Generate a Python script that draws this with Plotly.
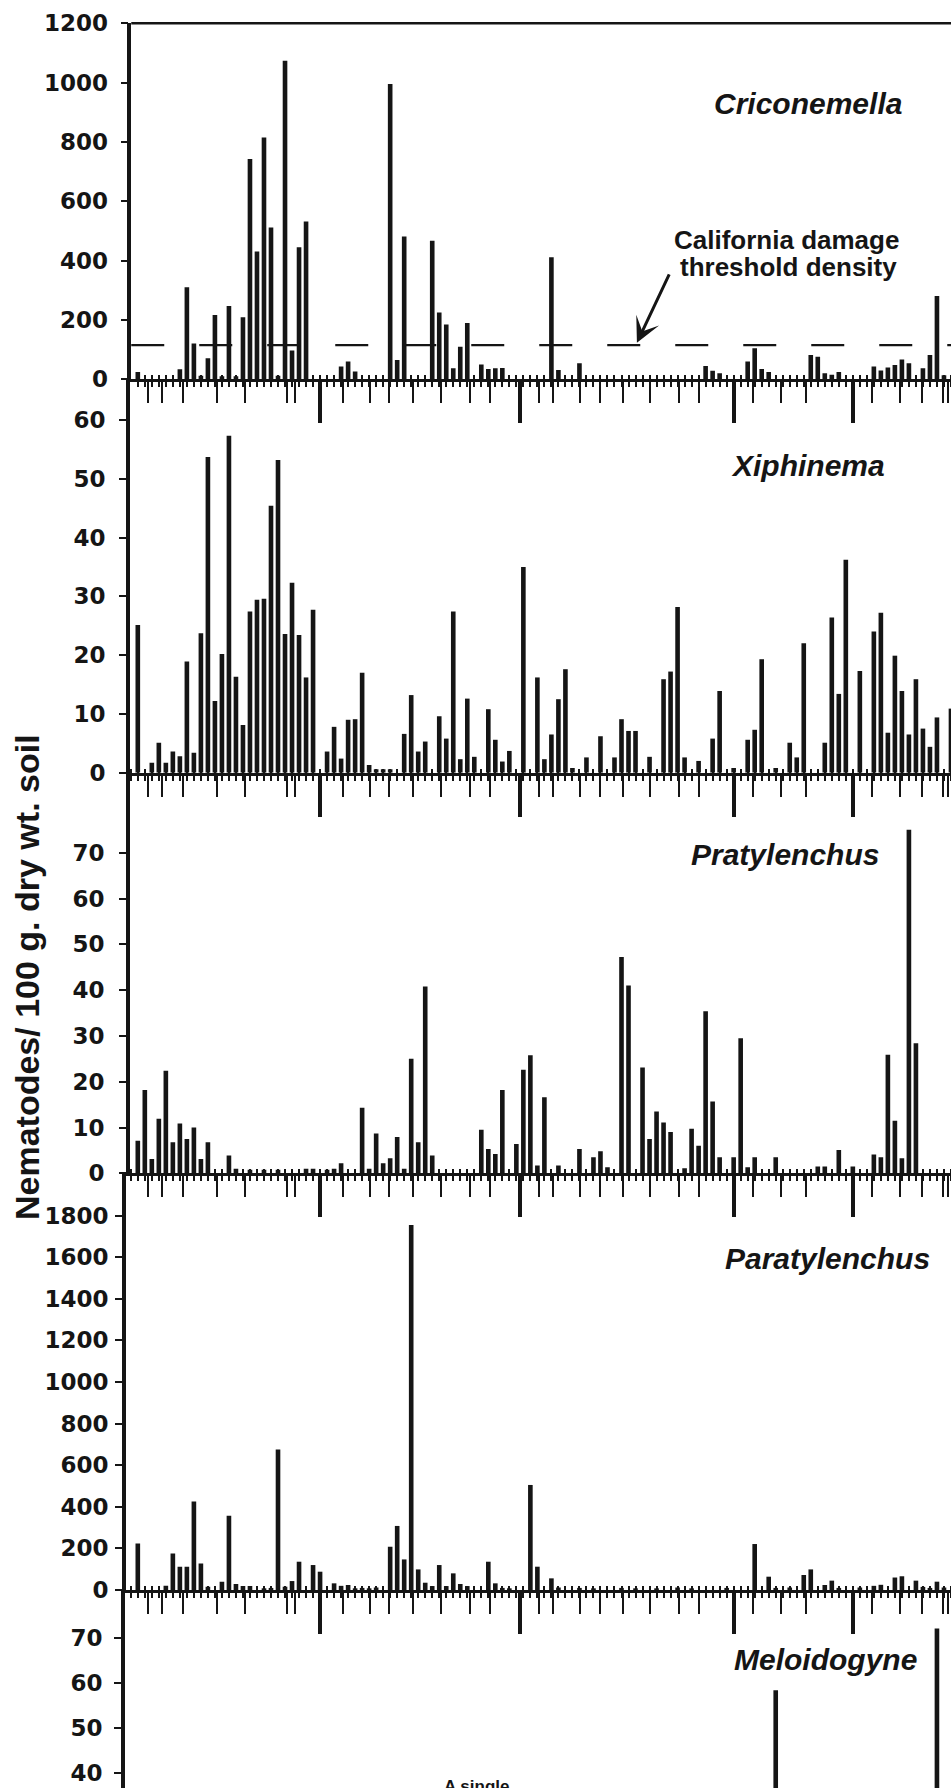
import plotly.graph_objects as go

# ---------------- data (sample position along transect, nematode counts) ----------------
crico_site = [1, 7, 8, 9, 10, 11, 12, 13, 14, 15,
              16, 17, 18, 19, 20, 21, 22, 23, 24, 25,
              30, 31, 32, 37, 38, 39, 43, 44, 45, 46,
              47, 48, 50, 51, 52, 53, 60, 61, 64, 82,
              83, 84, 88, 89, 90, 91, 97, 98, 99, 100,
              101, 106, 107, 108, 109, 110, 111, 113, 114, 115,
              116]
crico_count = [25, 34, 310, 121, 12, 71, 217, 10, 247, 10,
               209, 743, 431, 815, 512, 12, 1074, 97, 445, 532,
               43, 60, 26, 995, 65, 481, 467, 225, 185, 37,
               110, 190, 50, 35, 37, 38, 411, 31, 54, 45,
               29, 20, 60, 105, 35, 25, 82, 76, 20, 15,
               25, 43, 30, 40, 48, 67, 54, 37, 82, 281,
               14]

xiph_site = [1, 3, 4, 5, 6, 7, 8, 9, 10, 11,
             12, 13, 14, 15, 16, 17, 18, 19, 20, 21,
             22, 23, 24, 25, 26, 28, 29, 30, 31, 32,
             33, 34, 35, 36, 37, 39, 40, 41, 42, 44,
             45, 46, 47, 48, 49, 51, 52, 53, 54, 56,
             58, 59, 60, 61, 62, 63, 65, 67, 69, 70,
             71, 72, 74, 76, 77, 78, 79, 81, 83, 84,
             86, 88, 89, 90, 92, 94, 95, 96, 99, 100,
             101, 102, 104, 106, 107, 108, 109, 110, 111, 112,
             113, 114, 115, 117]
xiph_count = [25.1, 1.7, 5.1, 1.7, 3.6, 2.8, 18.9, 3.4, 23.7, 53.7,
              12.2, 20.2, 57.3, 16.3, 8.1, 27.4, 29.4, 29.6, 45.4, 53.2,
              23.6, 32.3, 23.4, 16.2, 27.7, 3.6, 7.8, 2.4, 9.0, 9.1,
              17.0, 1.3, 0.6, 0.6, 0.6, 6.6, 13.2, 3.6, 5.3, 9.6,
              5.8, 27.4, 2.3, 12.6, 2.7, 10.8, 5.6, 1.9, 3.7, 35.0,
              16.2, 2.3, 6.5, 12.5, 17.6, 0.8, 2.6, 6.2, 2.6, 9.1,
              7.1, 7.1, 2.7, 15.9, 17.2, 28.2, 2.6, 2.0, 5.8, 13.9,
              0.8, 5.6, 7.3, 19.3, 0.8, 5.1, 2.6, 22.0, 5.1, 26.4,
              13.4, 36.2, 17.3, 24.0, 27.2, 6.8, 19.9, 13.9, 6.5, 15.9,
              7.5, 4.4, 9.4, 10.9]

praty_site = [1, 2, 3, 4, 5, 6, 7, 8, 9, 10,
              11, 14, 15, 17, 19, 21, 25, 26, 28, 29,
              30, 33, 34, 35, 36, 37, 38, 39, 40, 41,
              42, 43, 50, 51, 52, 53, 55, 56, 57, 58,
              59, 61, 64, 66, 67, 68, 70, 71, 73, 74,
              75, 76, 77, 79, 80, 81, 82, 83, 84, 86,
              87, 88, 89, 92, 98, 99, 101, 103, 106, 107,
              108, 109, 110, 111, 112]
praty_count = [7.1, 18.2, 3.1, 11.9, 22.4, 6.8, 10.9, 7.5, 10.0, 3.1,
               6.8, 3.9, 1.0, 0.8, 0.8, 0.8, 1.0, 1.0, 0.8, 1.0,
               2.2, 14.3, 1.0, 8.7, 2.2, 3.3, 7.9, 1.0, 25.0, 6.8,
               40.8, 3.9, 9.5, 5.3, 4.2, 18.2, 6.4, 22.6, 25.8, 1.7,
               16.6, 1.7, 5.3, 3.5, 4.8, 1.3, 47.2, 41.0, 23.1, 7.5,
               13.5, 11.1, 9.0, 1.1, 9.7, 6.0, 35.4, 15.7, 3.5, 3.5,
               29.5, 1.3, 3.5, 3.5, 1.5, 1.5, 5.1, 1.5, 4.1, 3.5,
               25.9, 11.5, 3.3, 75.0, 28.4]

para_site = [1, 5, 6, 7, 8, 9, 10, 11, 13, 14,
             15, 16, 17, 19, 20, 21, 22, 23, 24, 26,
             27, 29, 30, 31, 32, 33, 34, 35, 37, 38,
             39, 40, 41, 42, 43, 44, 45, 46, 47, 48,
             51, 52, 53, 54, 57, 58, 60, 61, 64, 66,
             70, 72, 75, 78, 80, 85, 89, 91, 92, 94,
             96, 97, 99, 100, 101, 104, 106, 107, 109, 110,
             112, 113, 114, 115, 116]
para_count = [224, 20, 176, 112, 112, 425, 128, 16, 40, 357,
              29, 19, 19, 8, 10, 676, 16, 43, 136, 120,
              88, 32, 20, 24, 8, 10, 8, 12, 208, 308,
              147, 1755, 99, 35, 19, 120, 19, 80, 29, 19,
              136, 32, 10, 8, 505, 112, 56, 12, 10, 8,
              10, 8, 8, 12, 8, 10, 221, 64, 10, 12,
              72, 99, 24, 45, 10, 12, 20, 25, 60, 66,
              45, 15, 10, 40, 12]

melo_site = [92, 115]
melo_count = [58.4, 72.1]

genera = ["Criconemella", "Xiphinema", "Pratylenchus", "Paratylenchus", "Meloidogyne"]
y_ticks = [[0, 200, 400, 600, 800, 1000, 1200],
           [0, 10, 20, 30, 40, 50, 60],
           [0, 10, 20, 30, 40, 50, 60, 70],
           [0, 200, 400, 600, 800, 1000, 1200, 1400, 1600, 1800],
           [40, 50, 60, 70]]
group_ticks = [2.5, 4.5, 7.4, 12.3, 16.3, 22.3, 23.4, 30.3, 34.1, 36.9, 40.2, 44.2,
               48.4, 51.2, 58.3, 60.2, 64.1, 66.9, 70.2, 74.1, 78.2, 81.1, 88.8,
               92.7, 96.3, 105.7, 109.7, 112.8, 115.9, 116.6]
vineyard_breaks = [27, 55.5, 86, 103]
threshold = 115

# ---------------- layout calibration (screen pixels of the 951x1788 page) ----------------
W, H = 951, 1788
X0, DX = 130.8, 7.01          # pixel of sample 0, pixels per sample


def fx(px):
    return px / W


def fy(px):
    return 1 - px / H


# per panel: y-axis x pixel, top pixel, bottom pixel, zero pixel, pixels per unit, label standoff
PAN = [
    dict(ax=131.25, top=23.3, bot=379.3, zero=379.3, ppu=356.0 / 1200, so=8),
    dict(ax=129.75, top=379.3, bot=772.7, zero=772.7, ppu=5.88, so=9),
    dict(ax=129.75, top=772.7, bot=1173.3, zero=1173.3, ppu=4.58, so=10),
    dict(ax=125.75, top=1173.3, bot=1590.0, zero=1590.0, ppu=0.208, so=2),
    dict(ax=124.75, top=1590.0, bot=1788.0, zero=1953.0, ppu=4.5, so=7),
]
series = [(crico_site, crico_count), (xiph_site, xiph_count), (praty_site, praty_count),
          (para_site, para_count), (melo_site, melo_count)]

INK = "#151515"
FONT = "Liberation Sans, Arial, Helvetica, sans-serif"
TFONT = "DejaVu Sans, Verdana, sans-serif"

fig = go.Figure()
layout = dict(width=W, height=H, margin=dict(l=0, r=0, t=0, b=0, autoexpand=False),
              paper_bgcolor="white", plot_bgcolor="white", showlegend=False,
              barmode="overlay", shapes=[], annotations=[])

for i, (p, (sx, sy)) in enumerate(zip(PAN, series)):
    n = i + 1
    xid = "x" if n == 1 else f"x{n}"
    yid = "y" if n == 1 else f"y{n}"
    xkey = "xaxis" if n == 1 else f"xaxis{n}"
    ykey = "yaxis" if n == 1 else f"yaxis{n}"
    xrange_ = [(p["ax"] - X0) / DX, (W - X0) / DX]
    fig.add_trace(go.Bar(x=sx, y=sy, width=0.66, xaxis=xid, yaxis=yid,
                         marker=dict(color=INK, line=dict(width=0)), hoverinfo="skip"))
    visible_x = n < 5
    layout[xkey] = dict(domain=[fx(p["ax"]), 1], range=xrange_, anchor=yid,
                        showline=visible_x, linewidth=3, linecolor=INK,
                        ticks="outside" if visible_x else "", tickmode="array",
                        tickvals=group_ticks, ticklen=21, tickwidth=2, tickcolor=INK,
                        showticklabels=False, showgrid=False, zeroline=False, automargin=False,
                        minor=dict(tickmode="linear", tick0=0, dtick=1,
                                   ticks="outside" if visible_x else "", ticklen=5,
                                   tickwidth=1.5, tickcolor=INK, showgrid=False))
    layout[ykey] = dict(domain=[fy(p["bot"]), fy(p["top"])],
                        range=[(p["zero"] - p["bot"]) / p["ppu"], (p["zero"] - p["top"]) / p["ppu"]],
                        anchor=xid, showline=True, linewidth=3.5, linecolor=INK,
                        ticks="outside", ticklen=7, tickwidth=2, tickcolor=INK,
                        tickmode="array", tickvals=y_ticks[i], ticktext=[str(v) for v in y_ticks[i]],
                        tickfont=dict(family=TFONT, size=23, color=INK, weight="bold"),
                        ticklabelstandoff=p["so"], showgrid=False, zeroline=False, automargin=False)
    if visible_x:
        oid = f"x{n + 5}"
        okey = f"xaxis{n + 5}"
        fig.add_trace(go.Scatter(x=[None], y=[None], xaxis=oid, yaxis=yid,
                                 hoverinfo="skip", showlegend=False))
        layout[okey] = dict(overlaying=xid, anchor=yid, side="bottom", range=xrange_,
                            showline=False, showgrid=False, zeroline=False, automargin=False,
                            showticklabels=False, ticks="outside", tickmode="array",
                            tickvals=vineyard_breaks, ticklen=43, tickwidth=4, tickcolor=INK,
                            minor=dict(tickmode="linear", tick0=0, dtick=1, ticks="inside",
                                       ticklen=4, tickwidth=1.5, tickcolor=INK, showgrid=False))

# top frame line of first panel and damage threshold line
layout["shapes"].append(dict(type="line", xref="x domain", yref="y domain", x0=0, x1=1, y0=1, y1=1,
                             line=dict(color=INK, width=2.5)))
layout["shapes"].append(dict(type="line", xref="x domain", yref="y", x0=0, x1=1,
                             y0=threshold, y1=threshold,
                             line=dict(color=INK, width=2.2, dash="33px,35px")))

# genus labels
label_px = [(807.5, 104), (808, 466), (785, 854), (827, 1258), (825.5, 1659)]
for name, (lx, ly) in zip(genera, label_px):
    layout["annotations"].append(dict(x=fx(lx), y=fy(ly), xref="paper", yref="paper",
                                      text=f"<b><i>{name}</i></b>", showarrow=False,
                                      xanchor="center", yanchor="middle",
                                      font=dict(family=FONT, size=30, color=INK)))

# threshold note and arrow
layout["annotations"].append(dict(x=fx(786), y=fy(239.5), xref="paper", yref="paper",
                                  text="<b>California damage</b>", showarrow=False,
                                  xanchor="center", yanchor="middle",
                                  font=dict(family=FONT, size=26, color=INK)))
layout["annotations"].append(dict(x=fx(788.5), y=fy(266.5), xref="paper", yref="paper",
                                  text="<b>threshold density</b>", showarrow=False,
                                  xanchor="center", yanchor="middle",
                                  font=dict(family=FONT, size=26, color=INK)))
layout["annotations"].append(dict(x=72.2, y=threshold + 8, xref="x", yref="y", text="",
                                  showarrow=True, ax=33, ay=-70, arrowhead=3, arrowsize=1.4,
                                  arrowwidth=3, arrowcolor=INK, standoff=0))

# y title
layout["annotations"].append(dict(x=fx(27), y=fy(977), xref="paper", yref="paper",
                                  text="<b>Nematodes/ 100 g. dry wt. soil</b>", textangle=-90,
                                  showarrow=False, xanchor="center", yanchor="middle",
                                  font=dict(family=FONT, size=34, color=INK)))

# note at the bottom edge (continues below the visible area in the source)
layout["annotations"].append(dict(x=fx(477), y=fy(1775), xref="paper", yref="paper",
                                  text="<b>A single</b>", showarrow=False,
                                  xanchor="center", yanchor="top",
                                  font=dict(family=FONT, size=17, color=INK)))

fig.update_layout(**layout)
fig.write_html("out.html", config={"displayModeBar": False},
               post_script="document.body.style.margin='0';document.body.style.overflow='hidden';")
